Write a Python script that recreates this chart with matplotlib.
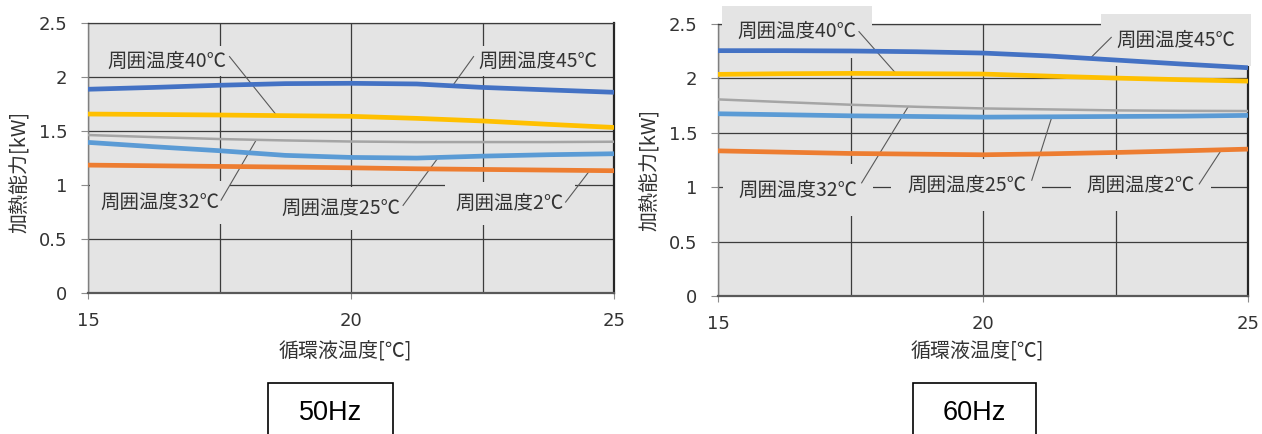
import numpy as np
import matplotlib
matplotlib.use("Agg")
import matplotlib.pyplot as plt
from matplotlib.patches import Rectangle

plt.rcParams["font.family"] = ["Noto Sans CJK JP", "DejaVu Sans"]

# Circulating fluid temperature [°C]
fluid_temp = [15, 16.25, 17.5, 18.75, 20, 21.25, 22.5, 23.75, 25]

# Heating capacity [kW], 50 Hz, by ambient temperature
cap50_amb45 = [1.883, 1.900, 1.920, 1.935, 1.938, 1.932, 1.900, 1.877, 1.855]
cap50_amb40 = [1.654, 1.650, 1.645, 1.639, 1.633, 1.614, 1.590, 1.559, 1.530]
cap50_amb32 = [1.460, 1.441, 1.423, 1.410, 1.400, 1.395, 1.395, 1.395, 1.398]
cap50_amb25 = [1.392, 1.352, 1.315, 1.272, 1.253, 1.247, 1.265, 1.278, 1.287]
cap50_amb2 = [1.182, 1.176, 1.170, 1.164, 1.157, 1.148, 1.142, 1.136, 1.130]

# Heating capacity [kW], 60 Hz, by ambient temperature
cap60_amb45 = [2.255, 2.255, 2.252, 2.245, 2.233, 2.206, 2.169, 2.132, 2.098]
cap60_amb40 = [2.037, 2.043, 2.046, 2.043, 2.040, 2.021, 2.003, 1.988, 1.975]
cap60_amb32 = [1.807, 1.782, 1.758, 1.739, 1.724, 1.715, 1.706, 1.702, 1.700]
cap60_amb25 = [1.675, 1.666, 1.656, 1.650, 1.644, 1.647, 1.650, 1.653, 1.660]
cap60_amb2 = [1.334, 1.322, 1.310, 1.304, 1.298, 1.307, 1.319, 1.334, 1.350]

series_names = ["周囲温度45℃", "周囲温度40℃", "周囲温度32℃", "周囲温度25℃", "周囲温度2℃"]
panel_titles = ["50Hz", "60Hz"]
x_ticks = [15, 20, 25]
y_ticks = [0, 0.5, 1, 1.5, 2, 2.5]
y_ticklabels = ["0", "0.5", "1", "1.5", "2", "2.5"]
x_title = "循環液温度[℃]"
y_title = "加熱能力[kW]"

line_colors = ["#4472C4", "#FFC000", "#A5A5A5", "#5B9BD5", "#ED7D31"]
line_widths = [3.4, 3.4, 1.8, 3.4, 3.4]
plot_bg = "#e4e4e4"
text_color = "#333333"
label_size = 14
title_size = 14.4

# Label placement: name -> (text x, text y, leader start x, leader start y, leader end x)
labels_50 = {
    "周囲温度40℃": (16.51, 2.145, 17.69, 2.185, 18.59),
    "周囲温度45℃": (23.55, 2.145, 22.33, 2.185, 21.93),
    "周囲温度32℃": (16.37, 0.836, 17.53, 0.858, 18.20),
    "周囲温度25℃": (19.81, 0.780, 20.99, 0.810, 21.66),
    "周囲温度2℃": (23.02, 0.827, 24.08, 0.840, 24.54),
}
labels_60 = {
    "周囲温度40℃": (16.49, 2.430, 17.66, 2.430, 18.36),
    "周囲温度45℃": (23.64, 2.353, 22.42, 2.377, 22.02),
    "周囲温度32℃": (16.51, 0.972, 17.71, 1.040, 18.59),
    "周囲温度25℃": (19.69, 1.018, 20.92, 1.064, 21.30),
    "周囲温度2℃": (22.98, 1.018, 24.08, 1.030, 24.50),
}
label_pads_50 = {"周囲温度40℃": 0.25, "周囲温度45℃": 0.25,
                 "周囲温度32℃": 0.55, "周囲温度25℃": 0.55, "周囲温度2℃": 0.55}
label_pads_60 = {k: 0.8 for k in series_names}


def draw_panel(ax, series, labels, pads, xlabel_pos, ylabel_pos):
    ax.set_facecolor(plot_bg)
    ax.set_xlim(15, 25)
    ax.set_ylim(0, 2.5)
    ax.set_xticks(x_ticks)
    ax.set_xticks([17.5, 22.5], minor=True)
    ax.set_yticks(y_ticks)
    ax.set_yticklabels(y_ticklabels)
    ax.set_axisbelow(True)
    ax.grid(which="both", color="#3c3c3c", lw=0.9)
    ax.tick_params(axis="x", which="major", length=4, width=0.8, color="#8c8c8c",
                   labelsize=13, labelcolor=text_color, pad=10)
    ax.tick_params(axis="x", which="minor", length=0)
    ax.tick_params(axis="y", length=5, width=0.8, color="#8c8c8c",
                   labelsize=13, labelcolor=text_color, pad=10)
    for lab in ax.get_xticklabels() + ax.get_yticklabels():
        lab.set_family("DejaVu Sans")
    ax.spines["left"].set_color("#7f7f7f")
    ax.spines["left"].set_linewidth(1.0)
    ax.spines["bottom"].set_color("#595959")
    ax.spines["bottom"].set_linewidth(1.6)
    ax.spines["right"].set_color("#262626")
    ax.spines["right"].set_linewidth(1.6)
    ax.spines["top"].set_color("#3c3c3c")
    ax.spines["top"].set_linewidth(0.9)

    for name, vals, col, lw in zip(series_names, series, line_colors, line_widths):
        ax.plot(fluid_temp, vals, color=col, lw=lw, solid_capstyle="butt", zorder=4)

    for name, vals in zip(series_names, series):
        tx, ty, lx0, ly0, lx1 = labels[name]
        ax.text(tx, ty, name, ha="center", va="center", fontsize=label_size,
                color=text_color, zorder=3, clip_on=False,
                bbox=dict(boxstyle=f"square,pad={pads[name]}", fc=plot_bg, ec="none"))
        ly1 = np.interp(lx1, fluid_temp, vals)
        ax.plot([lx0, lx1], [ly0, ly1], color="#595959", lw=0.8, zorder=3.5,
                clip_on=False)

    ax.set_xlabel(x_title, fontsize=title_size, color=text_color, va="center")
    ax.xaxis.set_label_coords(*xlabel_pos)
    ax.set_ylabel(y_title, fontsize=title_size, color=text_color, va="center")
    ax.yaxis.set_label_coords(*ylabel_pos)


fig = plt.figure(figsize=(12.62, 4.34), dpi=100)
W, H = 1262, 434

ax50 = fig.add_axes([88 / W, 1 - 293 / H, 526 / W, 270.5 / H])
ax60 = fig.add_axes([718 / W, 1 - 296 / H, 530 / W, 272 / H])

draw_panel(ax50, [cap50_amb45, cap50_amb40, cap50_amb32, cap50_amb25, cap50_amb2],
           labels_50, label_pads_50, (0.489, -0.218), (-0.129, 0.447))
draw_panel(ax60, [cap60_amb45, cap60_amb40, cap60_amb32, cap60_amb25, cap60_amb2],
           labels_60, label_pads_60, (0.490, -0.206), (-0.128, 0.463))

# Frequency captions in outlined boxes below each panel
for title, (x0, x1) in zip(panel_titles, [(268, 393), (913, 1036)]):
    fig.patches.append(Rectangle((x0 / W, -0.1), (x1 - x0) / W, 0.1 + 1 - 383 / H,
                                 transform=fig.transFigure, fill=False,
                                 ec="black", lw=1.2))
    fig.text((x0 + x1) / 2 / W, 1 - 413 / H, title, ha="center", va="center",
             fontsize=19.5, family=["Liberation Sans", "DejaVu Sans"], color="black")

fig.savefig("out.png", dpi=100)
